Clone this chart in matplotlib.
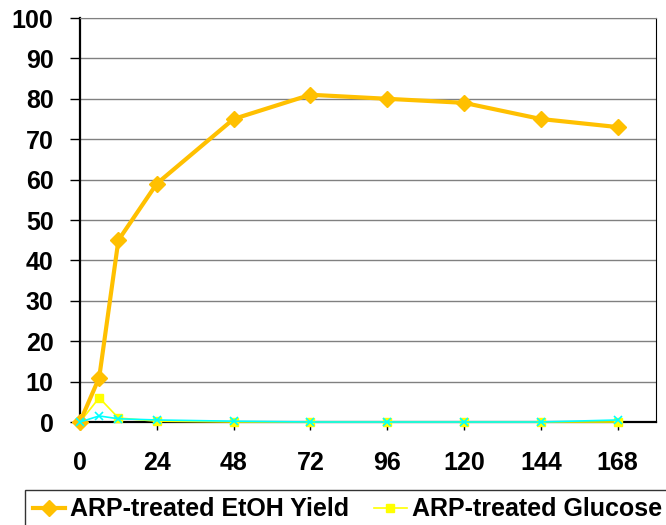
import matplotlib.pyplot as plt

hours = [0, 6, 12, 24, 48, 72, 96, 120, 144, 168]
etoh_yield = [0, 11, 45, 59, 75, 81, 80, 79, 75, 73]
glucose = [0, 6, 1, 0.2, 0, 0, 0, 0, 0, 0]
xylose = [0, 1.5, 0.8, 0.5, 0.2, 0, 0, 0, 0, 0.5]

fig = plt.figure(figsize=(6.66, 5.25), dpi=100)
ax = fig.add_axes([80 / 666, 1 - 422 / 525, 576 / 666, 404 / 525])

ax.plot(hours, etoh_yield, color='#FFC000', lw=3, marker='D', ms=8,
        label='ARP-treated EtOH Yield', zorder=4, clip_on=False)
ax.plot(hours, glucose, color='#FFFF00', lw=1.2, marker='s', ms=6,
        label='ARP-treated Glucose', zorder=3, clip_on=False)
ax.plot(hours, xylose, color='#00FFFF', lw=1.2, marker='x', ms=6, mew=1.2,
        label='_nolegend_', zorder=5, clip_on=False)

ax.set_xlim(0, 180)
ax.set_ylim(0, 100)
ax.set_xticks([0, 24, 48, 72, 96, 120, 144, 168])
ax.set_yticks(range(0, 101, 10))
ax.yaxis.grid(True, color='#808080', lw=1)
ax.set_axisbelow(True)
for s in ax.spines.values():
    s.set_color('black')
ax.spines['top'].set_color('#808080')
ax.spines['left'].set_linewidth(1.6)
ax.spines['bottom'].set_linewidth(1.6)
ax.tick_params(axis='y', direction='out', length=7, width=1, labelsize=18, pad=12)
ax.tick_params(axis='x', direction='out', length=6, width=1, labelsize=18, pad=15)
for lab in ax.get_xticklabels() + ax.get_yticklabels():
    lab.set_fontweight('bold')
    lab.set_family('Liberation Sans')

leg = fig.legend(loc='upper left', bbox_to_anchor=(25 / 666, 1 - 490 / 525), ncol=2,
                 frameon=True, fancybox=False, edgecolor='black',
                 prop={'family': 'Liberation Sans', 'weight': 'bold', 'size': 18},
                 handlelength=1.3, handletextpad=0.2, columnspacing=1.0,
                 borderpad=0.3, borderaxespad=0)
leg.get_frame().set_linewidth(1)

fig.savefig('out.png', dpi=100)
